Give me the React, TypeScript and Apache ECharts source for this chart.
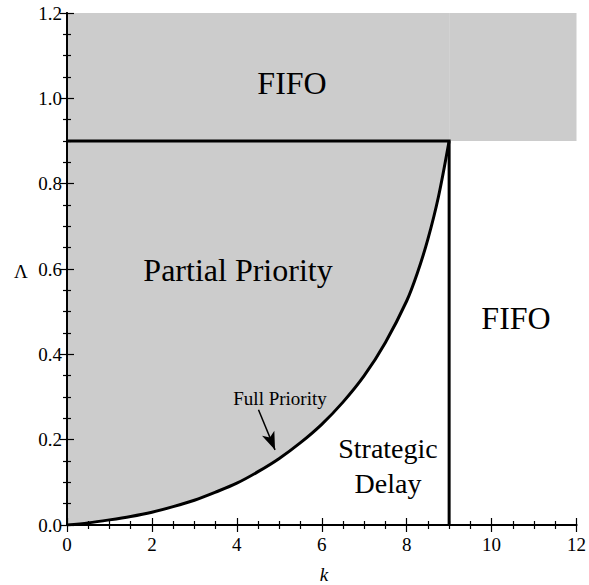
import React, { useEffect, useRef } from "react";
import * as echarts from "echarts";

// ---- data ----
const kTicks = [0, 2, 4, 6, 8, 10, 12];
const lambdaTicks = [0, 0.2, 0.4, 0.6, 0.8, 1.0, 1.2];
// boundary between Partial Priority and Strategic Delay
const boundaryCurve: [number, number][] = [
  [0, 0], [0.5, 0.005], [1, 0.012], [1.5, 0.02], [2, 0.03], [2.5, 0.043],
  [3, 0.058], [3.5, 0.077], [4, 0.098], [4.5, 0.125], [5, 0.156],
  [5.5, 0.193], [6, 0.236], [6.5, 0.288], [7, 0.35], [7.5, 0.428],
  [8, 0.525], [8.25, 0.59], [8.5, 0.67], [8.75, 0.77], [9, 0.9],
];
// horizontal + vertical boundaries
const boundaryEdges: [number, number][] = [[0, 0.9], [9, 0.9], [9, 0]];
// gray regions: [k0, L0, k1, L1]
const grayRegions: [number, number, number, number][] = [
  [0, 0, 9, 0.9],
  [0, 0.9, 9, 1.2],
  [9, 0.9, 12, 1.2],
];
const arrowTail: [number, number] = [4.51, 0.27];
const arrowTip: [number, number] = [4.9, 0.176];

const FONT = "'Liberation Serif', 'Times New Roman', serif";

export default function App() {
  const ref = useRef<HTMLDivElement>(null);
  useEffect(() => {
    if (!ref.current) return;
    const chart = echarts.init(ref.current, null, { renderer: "svg" });
    const axisLine = { show: true, lineStyle: { color: "#000", width: 1.8 } };
    const tickStyle = { color: "#000", width: 1.2 };
    const xBase = {
      type: "value" as const,
      min: kTicks[0],
      max: kTicks[kTicks.length - 1],
      interval: 2,
      z: 10,
      axisLine,
      axisTick: { show: true, inside: true, length: 7, lineStyle: tickStyle },
      minorTick: { show: true, splitNumber: 4, length: 4, lineStyle: tickStyle },
      splitLine: { show: false },
    };
    const yBase = {
      type: "value" as const,
      min: lambdaTicks[0],
      max: lambdaTicks[lambdaTicks.length - 1],
      interval: 0.2,
      z: 10,
      axisLine,
      axisTick: { show: true, inside: true, length: 7, lineStyle: tickStyle },
      minorTick: { show: true, splitNumber: 4, length: 4, lineStyle: tickStyle },
      splitLine: { show: false },
    };
    const txt = (text: string, x: number, y: number, size: number, italic = false) => ({
      type: "text",
      x,
      y,
      z: 20,
      silent: true,
      style: {
        text,
        fontFamily: FONT,
        fontSize: size,
        fontStyle: italic ? "italic" : "normal",
        fill: "#000",
        textAlign: "center",
        textVerticalAlign: "middle",
      },
    });
    chart.setOption({
      animation: false,
      backgroundColor: "#fff",
      grid: { left: 67, right: 9, top: 13, bottom: 60, containLabel: false },
      xAxis: [
        {
          ...xBase,
          position: "bottom",
          axisLabel: { show: true, color: "#000", fontFamily: FONT, fontSize: 19, margin: 10, formatter: (v: number) => String(v) },
        },
        { ...xBase, position: "top", axisLabel: { show: false } },
      ],
      yAxis: [
        {
          ...yBase,
          position: "left",
          axisLabel: { show: true, color: "#000", fontFamily: FONT, fontSize: 19, margin: 5, formatter: (v: number) => v.toFixed(1) },
        },
        { ...yBase, position: "right", axisLabel: { show: false } },
      ],
      series: [
        {
          type: "custom",
          z: 1,
          silent: true,
          data: grayRegions,
          encode: { x: [0, 2], y: [1, 3] },
          renderItem: (params: any, api: any) => {
            const p0 = api.coord([api.value(0), api.value(1)]);
            const p1 = api.coord([api.value(2), api.value(3)]);
            return {
              type: "rect",
              shape: { x: p0[0], y: p1[1], width: p1[0] - p0[0], height: p0[1] - p1[1] },
              style: { fill: "#cccccc", stroke: null },
            };
          },
        },
        {
          type: "line",
          z: 3,
          silent: true,
          data: boundaryCurve,
          smooth: 0.3,
          showSymbol: false,
          symbol: "none",
          lineStyle: { color: "#000", width: 3 },
          areaStyle: { color: "#ffffff", opacity: 1 },
          markLine: {
            silent: true,
            animation: false,
            label: { show: false },
            lineStyle: { color: "#000", width: 1.5, type: "solid" },
            data: [
              [
                { coord: arrowTail, symbol: "none" },
                { coord: arrowTip, symbol: "arrow", symbolSize: [10, 18] },
              ],
            ],
          },
        },
        {
          type: "line",
          z: 4,
          silent: true,
          data: boundaryEdges,
          showSymbol: false,
          symbol: "none",
          lineStyle: { color: "#000", width: 3, join: "miter" },
        },
      ],
      graphic: [
        txt("FIFO", 292, 83, 32),
        txt("Partial Priority", 238, 270, 32),
        txt("FIFO", 516, 318, 32),
        txt("Full Priority", 280, 398, 19),
        txt("Strategic", 388, 448, 28),
        txt("Delay", 388, 483, 28),
        txt("Λ", 21, 271, 19),
        txt("k", 324, 574, 19, true),
      ],
    });
    return () => chart.dispose();
  }, []);
  return <div ref={ref} style={{ position: "absolute", left: 0, top: 0, width: 589, height: 585 }} />;
}
